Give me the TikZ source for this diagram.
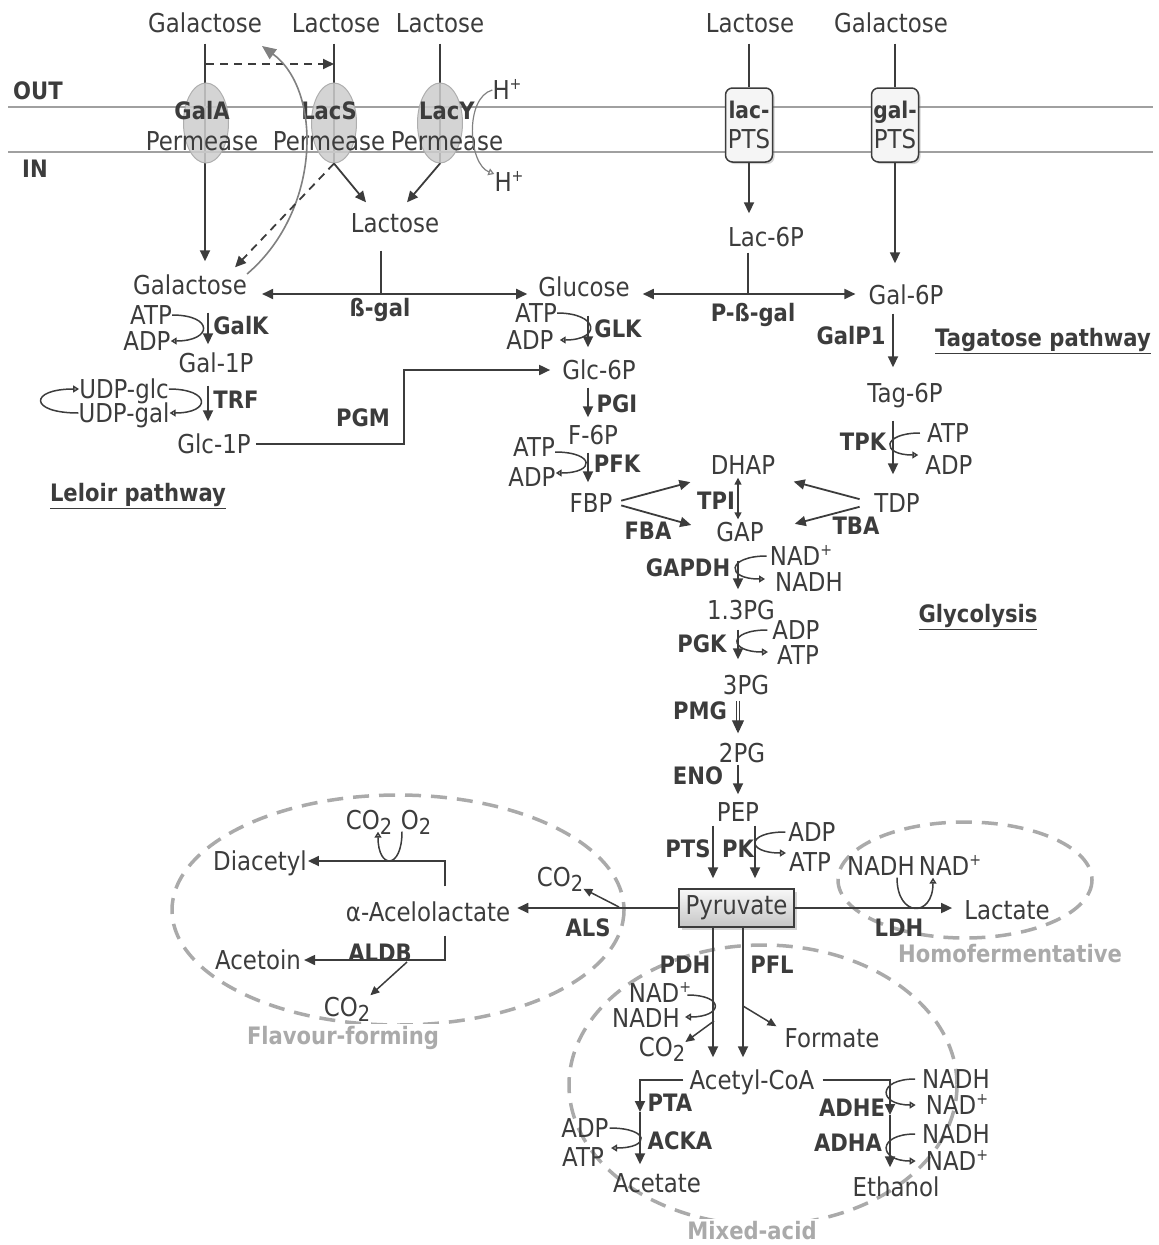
\documentclass[tikz,border=0pt]{standalone}
\usepackage{fontspec}
\setmainfont{DejaVu Sans}[FakeStretch=0.88]
\usepackage{tikz}
\usetikzlibrary{arrows.meta}
\usetikzlibrary{positioning}
\usetikzlibrary{shapes.geometric}
\usetikzlibrary{shadows}
\usetikzlibrary{backgrounds}

\definecolor{ink}{HTML}{3C3C3C}
\definecolor{membrane}{HTML}{A0A0A0}
\definecolor{zonegray}{HTML}{AAAAAA}
\definecolor{porefill}{HTML}{CDCDCD}
\definecolor{exitgray}{HTML}{808080}

\newcommand{\two}{\raisebox{-0.2em}{\fontsize{22}{22}\selectfont 2}}
\newcommand{\plus}{\raisebox{0.38em}{\fontsize{16}{16}\selectfont +}}

\tikzset{
  met/.style={inner sep=0pt, text height=21pt, text depth=2pt, text=ink,
    font=\fontsize{26}{30}\selectfont},
  enz/.style={met, font=\fontsize{24}{28}\selectfont\bfseries},
  zone/.style={draw=zonegray, line width=3.5pt, dash pattern=on 16pt off 10pt},
  zonelabel/.style={enz, text=zonegray, fill=white, inner xsep=3pt},
  ln/.style={draw=ink, line width=1.8pt},
  rx/.style={ln, -{Triangle[length=11pt,width=10pt]}},
  rxs/.style={draw=ink, line width=1.5pt, -{Triangle[length=9pt,width=8pt]}},
  rxx/.style={ln, {Triangle[length=11pt,width=10pt]}-{Triangle[length=11pt,width=10pt]}},
  co/.style={draw=ink, line width=1.5pt, -{Triangle[open,length=6pt,width=7pt]}},
  permease/.style={ellipse, draw=porefill!85!black, fill=porefill, fill opacity=0.85,
    line width=1pt, minimum width=45pt, minimum height=80pt, inner sep=0pt},
  ptsbox/.style={draw=ink, line width=1.5pt, rounded corners=7pt, fill=gray!8,
    minimum width=47pt, minimum height=74pt, inner sep=0pt, align=center, text=ink,
    font=\fontsize{26}{30}\selectfont,
    drop shadow={shadow xshift=2pt, shadow yshift=-2pt, opacity=0.35}},
  pyrbox/.style={draw=ink, line width=1.5pt, top color=gray!6, bottom color=gray!45,
    minimum width=115pt, minimum height=38pt, inner sep=0pt, text=ink,
    font=\fontsize{26}{30}\selectfont,
    drop shadow={shadow xshift=3pt, shadow yshift=-3pt, opacity=0.35}},
}

\begin{document}
\begin{tikzpicture}[x=1pt, y=-1pt]
  \useasboundingbox (0,0) rectangle (1159,1245);

  % zones
  \draw[zone] (398,910) ellipse [x radius=226, y radius=115];
  \draw[zone] (965,880) ellipse [x radius=127, y radius=58];
  \draw[zone] (763,1085) ellipse [x radius=194, y radius=140];

  % membrane
  \draw[membrane, line width=2pt] (8,107) -- (1153,107);
  \draw[membrane, line width=2pt] (8,152) -- (1153,152);
  \node[enz] (out) at (38,90) {OUT};
  \node[enz] (in) at (35,168) {IN};

  % lanes
  \coordinate (laneL) at (208,0);
  \coordinate (laneU) at (588,0);
  \coordinate (laneG) at (738,0);
  \coordinate (laneT) at (893,0);
  \coordinate (lanePTS) at (713,0);
  \coordinate (lanePK) at (755,0);
  \coordinate (lanePFL) at (743,0);
  \coordinate (dbend) at (445,0);
  \coordinate (dashY) at (0,64);

  % outside
  \node[met] (galOut) at (205,23) {Galactose};
  \node[met] (lacOutS) at (336,23) {Lactose};
  \node[met] (lacOutY) at (440,23) {Lactose};
  \node[met] (lacOutP) at (750,23) {Lactose};
  \node[met] (galOutP) at (891,23) {Galactose};
  \node[met] (hOut) at (507,90) {H\plus};
  \node[met] (hIn) at (509,182) {H\plus};

  % transporters
  \node[permease] (galA) at (206,123) {};
  \node[permease] (lacS) at (334,123) {};
  \node[permease] (lacY) at (440,123) {};
  \node[enz] (galAname) at (202,110) {GalA};
  \node[met] (galAperm) at (202,141) {Permease};
  \node[enz] (lacSname) at (329,110) {LacS};
  \node[met] (lacSperm) at (329,141) {Permease};
  \node[enz] (lacYname) at (447,110) {LacY};
  \node[met] (lacYperm) at (447,141) {Permease};
  \node[ptsbox] (lacPTS) at (749,125) {{\fontsize{23}{30}\selectfont\bfseries lac-}\\PTS};
  \node[ptsbox] (galPTS) at (895,125) {{\fontsize{23}{30}\selectfont\bfseries gal-}\\PTS};

  % metabolites
  \node[met] (lacIn) at (395,223) {Lactose};
  \node[met] (galIn) at (190,285) {Galactose};
  \node[met] (glc) at (584,287) {Glucose};
  \node[met] (lac6p) at (766,237) {Lac-6P};
  \node[met] (gal6p) at (906,295) {Gal-6P};
  \node[met] (atpL) at (151,315) {ATP};
  \node[met] (adpL) at (147,341) {ADP};
  \node[met] (gal1p) at (216,363) {Gal-1P};
  \node[met] (udpglc) at (124,389) {UDP-glc};
  \node[met] (udpgal) at (124,413) {UDP-gal};
  \node[met] (glc1p) at (214,444) {Glc-1P};
  \node[met] (atpG) at (536,313) {ATP};
  \node[met] (adpG) at (530,340) {ADP};
  \node[met] (glc6p) at (599,370) {Glc-6P};
  \node[met] (f6p) at (593,435) {F-6P};
  \node[met] (atpF) at (534,447) {ATP};
  \node[met] (adpF) at (532,477) {ADP};
  \node[met] (fbp) at (591,503) {FBP};
  \node[met] (dhap) at (743,465) {DHAP};
  \node[met] (gap) at (740,532) {GAP};
  \node[met] (tag6p) at (905,393) {Tag-6P};
  \node[met] (atpT) at (948,433) {ATP};
  \node[met] (adpT) at (949,465) {ADP};
  \node[met] (tdp) at (897,503) {TDP};
  \node[met] (nadG) at (801,556) {NAD\plus};
  \node[met] (nadhG) at (809,582) {NADH};
  \node[met] (pg13) at (741,610) {1.3PG};
  \node[met] (adpK) at (796,630) {ADP};
  \node[met] (atpK) at (798,655) {ATP};
  \node[met] (pg3) at (746,685) {3PG};
  \node[met] (pg2) at (742,753) {2PG};
  \node[met] (pep) at (738,812) {PEP};
  \node[met] (adpP) at (812,832) {ADP};
  \node[met] (atpP) at (810,862) {ATP};
  \node[pyrbox] (pyr) at (736.5,908) {Pyruvate};
  \node[met] (lactate) at (1007,910) {Lactate};
  \node[met] (nadhL) at (881,866) {NADH};
  \node[met] (nadL) at (950,866) {NAD\plus};
  \node[met] (acelo) at (428,912) {α-Acelolactate};
  \node[met] (co2S) at (560,877) {CO\two};
  \node[met] (diacetyl) at (260,861) {Diacetyl};
  \node[met] (co2D) at (369,820) {CO\two};
  \node[met] (o2) at (416,820) {O\two};
  \node[met] (acetoin) at (258,960) {Acetoin};
  \node[met] (co2A) at (347,1007) {CO\two};
  \node[met] (nadP) at (660,993) {NAD\plus};
  \node[met] (nadhP) at (646,1018) {NADH};
  \node[met] (co2P) at (662,1047) {CO\two};
  \node[met] (formate) at (832,1038) {Formate};
  \node[met] (acoa) at (752,1080) {Acetyl-CoA};
  \node[met] (adpA) at (585,1128) {ADP};
  \node[met] (atpA) at (583,1157) {ATP};
  \node[met] (acetate) at (657,1183) {Acetate};
  \node[met] (nadhE) at (956,1079) {NADH};
  \node[met] (nadE) at (957,1105) {NAD\plus};
  \node[met] (nadhA) at (956,1134) {NADH};
  \node[met] (nadA) at (957,1161) {NAD\plus};
  \node[met] (ethanol) at (896,1187) {Ethanol};

  % enzymes
  \node[enz] (bgalname) at (380,307) {ß-gal};
  \node[enz] (pbgalname) at (753,312) {P-ß-gal};
  \node[enz] (galk) at (241,325) {GalK};
  \node[enz] (trf) at (236,399) {TRF};
  \node[enz] (pgm) at (363,417) {PGM};
  \node[enz] (glk) at (618,328) {GLK};
  \node[enz] (pgi) at (617,403) {PGI};
  \node[enz] (pfk) at (617,463) {PFK};
  \node[enz] (galp1) at (851,335) {GalP1};
  \node[enz] (tpk) at (863,441) {TPK};
  \node[enz] (tpi) at (716,500) {TPI};
  \node[enz] (fba) at (648,530) {FBA};
  \node[enz] (tba) at (856,525) {TBA};
  \node[enz] (gapdh) at (688,567) {GAPDH};
  \node[enz] (pgk) at (702,643) {PGK};
  \node[enz] (pmg) at (700,710) {PMG};
  \node[enz] (eno) at (698,775) {ENO};
  \node[enz] (pts) at (688,848) {PTS};
  \node[enz] (pk) at (738,848) {PK};
  \node[enz] (ldh) at (899,927) {LDH};
  \node[enz] (als) at (588,927) {ALS};
  \node[enz] (aldb) at (380,952) {ALDB};
  \node[enz] (pdh) at (685,964) {PDH};
  \node[enz] (pfl) at (772,964) {PFL};
  \node[enz] (pta) at (670,1102) {PTA};
  \node[enz] (acka) at (680,1140) {ACKA};
  \node[enz] (adhe) at (852,1107) {ADHE};
  \node[enz] (adha) at (848,1142) {ADHA};

  % pathway names
  \node[enz] (leloir) at (138,492) {\underline{Leloir pathway}};
  \node[enz] (tagatose) at (1043,337) {\underline{Tagatose pathway}};
  \node[enz] (glycolysis) at (978,613) {\underline{Glycolysis}};
  \node[zonelabel] (flavour) at (343,1035) {Flavour-forming};
  \node[zonelabel] (homo) at (1010,953) {Homofermentative};
  \node[zonelabel] (mixed) at (752,1230) {Mixed-acid};

  % uptake (behind transporters)
  \begin{pgfonlayer}{background}
    \draw[rx, shorten <=9pt, shorten >=12pt] (galOut.south) -- (galOut.south |- galIn.north);
    \draw[ln, shorten <=9pt] (lacOutS.south -| lacS) -- (lacS.south);
    \draw[ln, shorten <=9pt] (lacOutY.south -| lacY) -- (lacY.south);
  \end{pgfonlayer}
  \draw[ln, shorten <=9pt] (lacOutP.south -| lacPTS) -- (lacPTS.north);
  \draw[ln, shorten <=9pt] (galOutP.south -| galPTS) -- (galPTS.north);
  \draw[ln, dash pattern=on 8pt off 6pt, -{Triangle[length=11pt,width=10pt]}]
    (galA |- dashY) -- (lacS |- dashY);
  \draw[draw=exitgray, line width=1.6pt, -{Triangle[length=14pt,width=12pt]}]
    ([yshift=11pt]galIn.east) .. controls (322,210) and (322,90) .. (262,46);
  \draw[ln, dash pattern=on 8pt off 6pt, -{Triangle[length=11pt,width=10pt]}]
    (lacS.south) -- ([xshift=-12pt,yshift=6pt]galIn.north east);
  \draw[rx] (lacS.south) -- ([xshift=-29pt,yshift=9pt]lacIn.north);
  \draw[rx] (lacY.south) -- ([xshift=12pt,yshift=9pt]lacIn.north);
  \draw[draw=exitgray, line width=1.2pt, -{Triangle[open,length=6pt,width=7pt]}]
    (hOut.west) .. controls +(-28,8) and +(-26,-10) .. ([yshift=8pt]hIn.west);
  \draw[rx, shorten >=12pt] (lacPTS.south) -- (lacPTS.south |- lac6p.north);
  \draw[rx, shorten >=20pt] (galPTS.south) -- (galPTS.south |- gal6p.north);

  % lactose cleavage
  \coordinate (bgal) at (381,294);
  \coordinate (pbgal) at (748,294);
  \draw[ln, shorten <=16pt] (lacIn.south -| bgal) -- (bgal);
  \draw[rxx, shorten <=15pt, shorten >=11pt] (galIn.east |- bgal) -- (glc.west |- bgal);
  \draw[ln, shorten <=4pt] (lac6p.south -| pbgal) -- (pbgal);
  \draw[rxx, shorten <=13pt, shorten >=13pt] (glc.east |- pbgal) -- (gal6p.west |- pbgal);

  % Leloir
  \draw[rx, shorten <=16pt, shorten >=7pt] (galIn.south -| laneL) -- (gal1p.north -| laneL);
  \draw[co] (atpL.east) .. controls +(42,0) and +(42,0) .. (adpL.east);
  \draw[rx, shorten <=11pt, shorten >=11pt] (gal1p.south -| laneL) -- (glc1p.north -| laneL);
  \draw[co] (udpglc.east) .. controls +(42,0) and +(42,0) .. (udpgal.east);
  \draw[co] (udpgal.west) .. controls +(-50,0) and +(-50,0) .. (udpglc.west);
  \coordinate (pgmc) at (404,370);
  \draw[rx, shorten <=5pt, shorten >=12pt] (glc1p.east) -| (pgmc) -- (glc6p.west);

  % upper glycolysis
  \draw[rx, shorten <=17pt, shorten >=11pt] (glc.south -| laneU) -- (glc6p.north -| laneU);
  \draw[co] (atpG.east) .. controls +(42,0) and +(42,0) .. ([xshift=6pt]adpG.east);
  \draw[rx, shorten <=6pt, shorten >=6pt] (glc6p.south -| laneU) -- (f6p.north -| laneU);
  \draw[rx, shorten <=6pt, shorten >=9pt] (f6p.south -| laneU) -- (fbp.north -| laneU);
  \draw[co] ([yshift=-5pt]atpF.east) .. controls +(40,0) and +(40,0) .. ([yshift=4pt]adpF.east);
  \draw[rx, shorten <=9pt, shorten >=21pt] (fbp.east) -- (dhap.south west);
  \draw[rx, shorten <=9pt, shorten >=26pt] (fbp.east) -- (gap.west);
  \draw[draw=ink, line width=1.5pt, {Triangle[length=7pt,width=7pt]}-{Triangle[length=7pt,width=7pt]},
    shorten <=1pt, shorten >=1pt] (dhap.south -| laneG) -- (gap.north -| laneG);

  % tagatose
  \draw[rx, shorten <=7pt, shorten >=14pt] (gal6p.south -| laneT) -- (tag6p.north -| laneT);
  \draw[rx, shorten <=16pt, shorten >=17pt] (tag6p.south -| laneT) -- (tdp.north -| laneT);
  \draw[co] ([xshift=-7pt]atpT.west) .. controls +(-38,0) and +(-38,0) .. ([xshift=-7pt,yshift=10pt]adpT.west);
  \draw[rx, shorten <=15pt, shorten >=19pt] (tdp.west) -- (dhap.south east);
  \draw[rx, shorten <=15pt, shorten >=32pt] (tdp.west) -- (gap.east);

  % lower glycolysis
  \draw[rx, shorten <=17pt, shorten >=9pt] (gap.south -| laneG) -- (pg13.north -| laneG);
  \draw[co] ([xshift=-3pt]nadG.west) .. controls +(-40,0) and +(-40,0) .. ([xshift=-10pt,yshift=3pt]nadhG.west);
  \draw[rx, shorten <=8pt, shorten >=14pt] (pg13.south -| laneG) -- (pg3.north -| laneG);
  \draw[co] ([xshift=-5pt]adpK.west) .. controls +(-40,0) and +(-40,0) .. ([xshift=-9pt,yshift=3pt]atpK.west);
  \draw[draw=ink, line width=1.1pt, double=white, double distance=2.4pt, shorten <=4pt, shorten >=11pt]
    (pg3.south -| laneG) -- (pg2.north -| laneG);
  \draw[draw=ink, line width=1pt, -{Triangle[length=13pt,width=12pt]}, shorten <=24pt, shorten >=8pt]
    (pg3.south -| laneG) -- (pg2.north -| laneG);
  \draw[rx, shorten >=6pt] (pg2.south -| laneG) -- (pep.north -| laneG);
  \draw[rx, shorten <=2pt, shorten >=10pt] (pep.south -| lanePTS) -- (pyr.north -| lanePTS);
  \draw[rx, shorten <=2pt, shorten >=10pt] (pep.south -| lanePK) -- (pyr.north -| lanePK);
  \draw[co] ([xshift=-3pt]adpP.west) .. controls +(-40,0) and +(-40,0) .. ([xshift=-3pt,yshift=9pt]atpP.west);

  % homofermentative
  \draw[rx, shorten >=12pt] (pyr.east) -- (pyr.east -| lactate.west);
  \draw[co] ([xshift=16pt]nadhL.south) .. controls +(0,40) and +(0,40) .. ([xshift=-17pt]nadL.south);

  % flavour-forming
  \coordinate (alsCo) at (619,907);
  \coordinate (aldbCo) at (407,962);
  \draw[rx, shorten >=7pt] (pyr.west) -- (pyr.west -| acelo.east);
  \draw[rxs] (alsCo) -- (co2S.south east);
  \draw[rx, shorten <=14pt, shorten >=1pt] (acelo.north -| dbend) |- (diacetyl.east);
  \draw[co] ([xshift=-14pt]o2.south) .. controls +(0,38) and +(0,38) .. ([xshift=9pt]co2D.south);
  \draw[rx, shorten <=12pt, shorten >=3pt] (acelo.south -| dbend) |- (acetoin.east);
  \draw[rxs] (aldbCo) -- (co2A.north east);

  % mixed-acid
  \coordinate (pdhCo) at (714,1021);
  \coordinate (pflCo) at (743,1006);
  \coordinate (ptaBend) at (640,1112);
  \coordinate (adheBend) at (890,1115);
  \draw[rx, shorten >=11pt] (pyr.south -| lanePTS) -- (acoa.north -| lanePTS);
  \draw[rx, shorten >=11pt] (pyr.south -| lanePFL) -- (acoa.north -| lanePFL);
  \draw[co] ([xshift=-4pt,yshift=-2pt]nadP.east) .. controls +(38,0) and +(38,0) .. ([xshift=5pt,yshift=1pt]nadhP.east);
  \draw[rxs] (pdhCo) -- ([yshift=5pt]co2P.east);
  \draw[rxs] (pflCo) -- ([xshift=-8pt]formate.north west);
  \draw[rx, shorten <=6pt] (acoa.west) -| (ptaBend);
  \draw[rx, shorten >=7pt] (ptaBend) -- (acetate.north -| ptaBend);
  \draw[co] ([xshift=1pt]adpA.east) .. controls +(40,0) and +(40,0) .. ([xshift=7pt,yshift=9pt]atpA.east);
  \draw[rx, shorten <=8pt] (acoa.east) -| (adheBend);
  \draw[rx, shorten >=8pt] (adheBend) -- (ethanol.north -| adheBend);
  \draw[co] ([xshift=-7pt]nadhE.west) .. controls +(-38,0) and +(-38,0) .. ([xshift=-10pt]nadE.west);
  \draw[co] ([xshift=-7pt]nadhA.west) .. controls +(-38,0) and +(-38,0) .. ([xshift=-10pt]nadA.west);
\end{tikzpicture}
\end{document}
